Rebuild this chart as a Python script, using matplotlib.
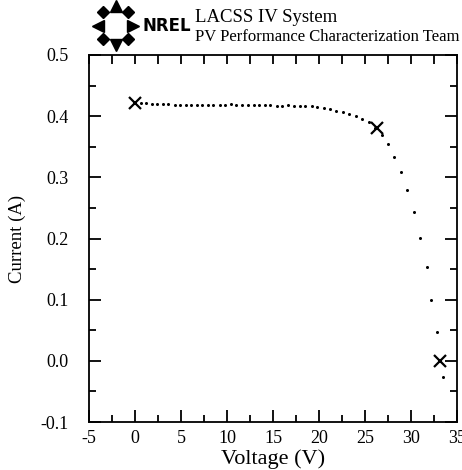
import matplotlib
matplotlib.use("Agg")
import matplotlib.pyplot as plt
from matplotlib.ticker import MultipleLocator, FormatStrFormatter

plt.rcParams['font.family'] = ['Liberation Serif', 'DejaVu Serif']
plt.rcParams['axes.unicode_minus'] = False

# measured I-V points (V, A)
volts = [0.6, 1.2, 1.8, 2.4, 3.0, 3.6, 4.3, 4.9, 5.5, 6.1, 6.7, 7.3, 7.9, 8.5,
         9.2, 9.8, 10.4, 11.0, 11.6, 12.3, 12.9, 13.5, 14.1, 14.7, 15.4, 16.0,
         16.6, 17.3, 17.9, 18.5, 19.2, 19.8, 20.5, 21.2, 21.9, 22.6, 23.3,
         24.0, 24.7, 25.4, 26.1, 26.8, 27.5, 28.2, 28.9, 29.6, 30.3, 31.0,
         31.7, 32.2, 32.8, 33.5]
amps = [0.421, 0.421, 0.420, 0.420, 0.420, 0.420, 0.419, 0.419, 0.419, 0.419,
        0.419, 0.419, 0.418, 0.419, 0.419, 0.419, 0.420, 0.419, 0.419, 0.418,
        0.418, 0.418, 0.418, 0.418, 0.417, 0.417, 0.418, 0.417, 0.417, 0.416,
        0.416, 0.415, 0.413, 0.411, 0.409, 0.406, 0.404, 0.401, 0.396, 0.390,
        0.381, 0.370, 0.354, 0.334, 0.309, 0.279, 0.243, 0.201, 0.153, 0.100,
        0.048, -0.027]

# Isc, Pmax, Voc
key_v = [0.0, 26.3, 33.2]
key_i = [0.422, 0.380, 0.0]

fig = plt.figure(figsize=(4.62, 4.70), dpi=100)
ax = fig.add_axes([0.193, 0.102, 0.796, 0.781])

ax.plot(volts, amps, 'o', color='black', markersize=2.2, markeredgewidth=0)
ax.plot(key_v, key_i, 'x', color='black', markersize=9, markeredgewidth=1.6)

ax.set_xlim(-5, 35)
ax.set_ylim(-0.1, 0.5)
ax.xaxis.set_major_locator(MultipleLocator(5))
ax.xaxis.set_minor_locator(MultipleLocator(2.5))
ax.yaxis.set_major_locator(MultipleLocator(0.1))
ax.yaxis.set_minor_locator(MultipleLocator(0.05))
ax.yaxis.set_major_formatter(FormatStrFormatter('%.1f'))

for s in ax.spines.values():
    s.set_linewidth(1.3)
ax.tick_params(which='both', direction='in', top=True, right=True,
               width=1.3, labelsize=13)
ax.tick_params(which='major', length=8.5)
ax.tick_params(which='minor', length=5)
ax.tick_params(axis='y', pad=15)
ax.tick_params(axis='x', pad=6)
for t in ax.xaxis.get_major_ticks() + ax.xaxis.get_minor_ticks():
    t.tick2line.set_markersize(6.5)

ax.set_xlabel('Voltage (V)', fontsize=16, labelpad=1)
ax.set_ylabel('Current (A)', fontsize=13.5, labelpad=10)

# header
fig.text(0.422, 0.962, 'LACSS IV System', fontsize=13.5, ha='left', va='center')
fig.text(0.422, 0.921, 'PV Performance Characterization Team', fontsize=12,
         ha='left', va='center')

# logo
lax = fig.add_axes([0.200, 0.890, 0.10, 0.11])
lax.set_xlim(-1, 1)
lax.set_ylim(-1, 1)
lax.axis('off')
lax.plot([0], [0.75], marker='^', color='black', markersize=8)
lax.plot([0], [-0.75], marker='v', color='black', markersize=8)
lax.plot([-0.75], [0], marker='<', color='black', markersize=8)
lax.plot([0.75], [0], marker='>', color='black', markersize=8)
lax.plot([0.52, -0.52, 0.52, -0.52], [0.52, 0.52, -0.52, -0.52], 'D',
         color='black', markersize=6)
fig.text(0.308, 0.945, 'NREL', fontsize=12, fontweight='heavy',
         family='DejaVu Sans', ha='left', va='center')

fig.savefig('out.png', dpi=100)
